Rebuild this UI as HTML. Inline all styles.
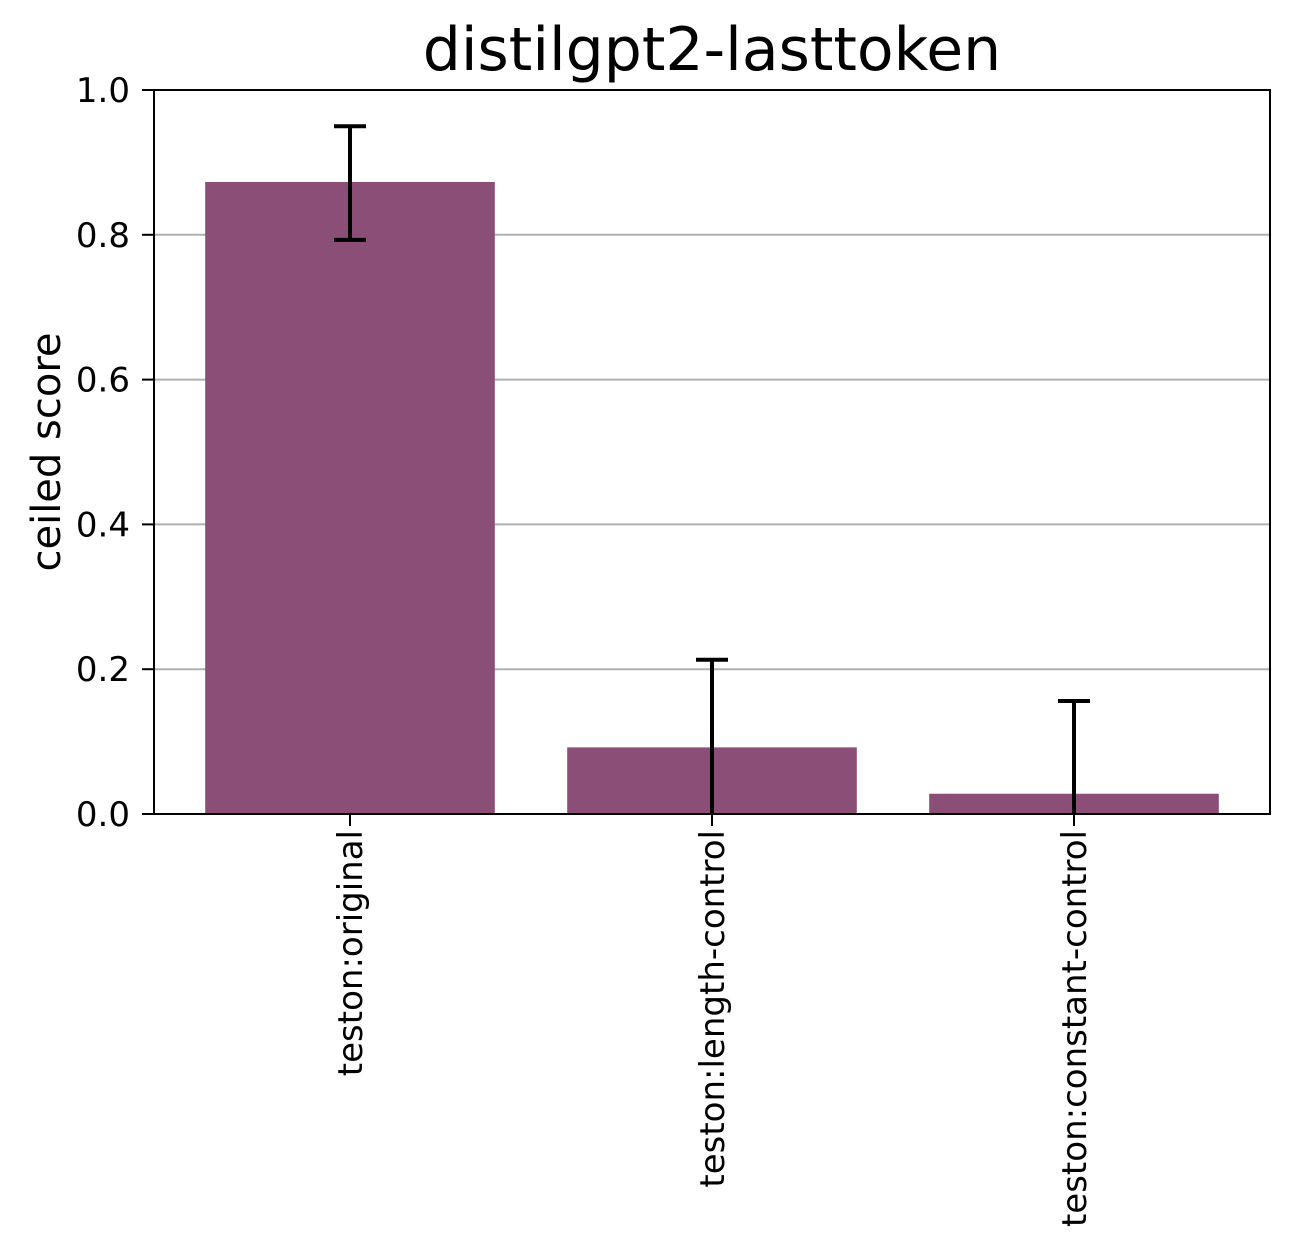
<!DOCTYPE html>
<html><head><meta charset="utf-8"><style>
html,body{margin:0;padding:0;background:#fff;}
svg text{font-family:"DejaVu Sans","Liberation Sans",sans-serif;fill:#000;}
</style></head><body>
<svg id="chart" width="1294" height="1251" xmlns="http://www.w3.org/2000/svg">
<rect width="1294" height="1251" fill="#fff"/>
<text x="712" y="70" font-size="60" text-anchor="middle">distilgpt2-lasttoken</text>
<g id="grid"></g>
<g id="bars"></g>
<g id="errs"></g>
<rect x="154" y="90" width="1116" height="724" fill="none" stroke="#000" stroke-width="2"/>
<g id="yaxis"></g>
<g id="xaxis"></g>
<text transform="translate(60,452) rotate(-90)" font-size="40" text-anchor="middle">ceiled score</text>
</svg>
<script>
const categories = ["teston:original","teston:length-control","teston:constant-control"];
const values = [0.873, 0.092, 0.028];
const errLow = [0.793, -0.03, -0.10];
const errHigh = [0.950, 0.213, 0.156];
const yTicks = [0.0, 0.2, 0.4, 0.6, 0.8, 1.0];
const yTickLabels = ["0.0","0.2","0.4","0.6","0.8","1.0"];

const NS="http://www.w3.org/2000/svg";
const X0=154,X1=1270,Y0=814,Y1=90;
const y=v=>Y0-(v-0)*(Y0-Y1)/1.0;
const step=362;
const x=i=>350+step*i;
const bw=step*0.8;
function mk(tag,attrs,parent){const e=document.createElementNS(NS,tag);for(const k in attrs)e.setAttribute(k,attrs[k]);document.getElementById(parent).appendChild(e);return e;}
const clip=v=>Math.max(0,Math.min(1,v));
yTicks.forEach((t,i)=>{
  if(t>0&&t<1){const g=mk('line',{x1:X0,x2:X1,y1:y(t),y2:y(t),stroke:'#b0b0b0','stroke-width':2},'grid');
  
  }
  const tk=mk('line',{x1:X0-12,x2:X0,y1:y(t),y2:y(t),stroke:'#000','stroke-width':2},'yaxis');
  
  
  const lb=mk('text',{x:X0-24,y:y(t)+12,'font-size':34,'text-anchor':'end'},'yaxis');
  lb.textContent=yTickLabels[i];
  
  
});
categories.forEach((c,i)=>{
  const b=mk('rect',{x:x(i)-bw/2,y:y(values[i]),width:bw,height:y(0)-y(values[i]),fill:'#8b4e77'},'bars');
  
  
  const lo=y(clip(errLow[i])),hi=y(clip(errHigh[i]));
  const e=mk('line',{x1:x(i),x2:x(i),y1:lo,y2:hi,stroke:'#000','stroke-width':4},'errs');
  
  
  [errLow[i],errHigh[i]].forEach(v=>{if(v>=0&&v<=1){
    const cp=mk('line',{x1:x(i)-16,x2:x(i)+16,y1:y(v),y2:y(v),stroke:'#000','stroke-width':4},'errs');
    
    }});
  const tk=mk('line',{x1:x(i),x2:x(i),y1:Y0,y2:Y0+12,stroke:'#000','stroke-width':2},'xaxis');
  
  
  const lb=mk('text',{transform:`translate(${x(i)+12},${Y0+16}) rotate(-90)`,'font-size':34,'text-anchor':'end'},'xaxis');
  lb.textContent=c;
  
  
});
</script>
</body></html>
